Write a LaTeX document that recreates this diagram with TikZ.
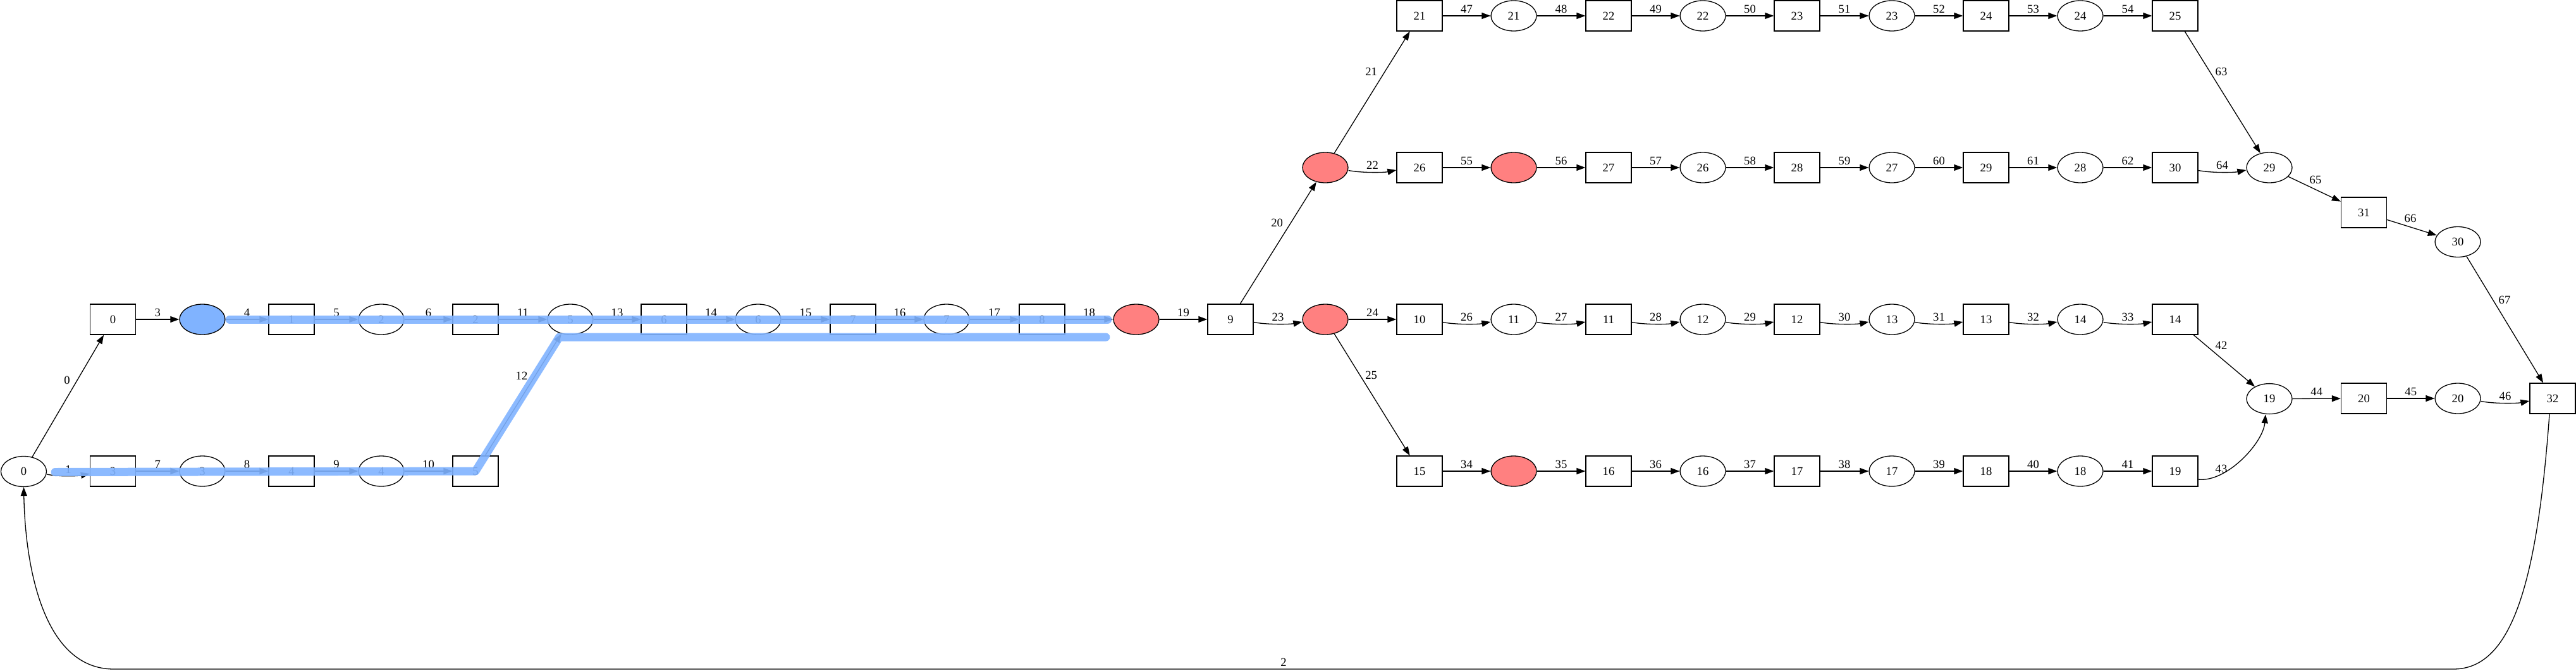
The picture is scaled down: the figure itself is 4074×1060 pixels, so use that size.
\documentclass[tikz,border=0pt]{standalone}
\usepackage{fontspec}
\setmainfont{Liberation Serif}
\usetikzlibrary{shapes.geometric,arrows.meta,calc}
\definecolor{hlblue}{RGB}{128,179,255}
\definecolor{redfill}{RGB}{255,128,128}
\newcommand\hconn[3]{\draw[conn] (#1) -- node[lbl,yshift=11pt]{#3} (#2);}
\newcommand\cconn[3]{\draw[conn] ([yshift=-4.5pt]#1.east) .. controls +(20,4) and +(-20,4) .. ([yshift=-4pt]#2.west) node[lbl,midway,yshift=10.6pt]{#3};}
\begin{document}
\begin{tikzpicture}[x=1pt,y=-1pt,
  every node/.style={font=\fontsize{18.67}{20}\selectfont},
  bx/.style={draw,line width=1.3pt,rectangle,minimum width=72pt,minimum height=48pt,inner sep=0pt},
  el/.style={draw,line width=1.3pt,ellipse,minimum width=72pt,minimum height=48pt,inner sep=0pt},
  redel/.style={el,fill=redfill},
  blueel/.style={el,fill=hlblue},
  conn/.style={line width=1.3pt,-{Triangle[length=14pt,width=10pt]}},
  lbl/.style={inner sep=0pt},
  hl/.style={line width=13pt,draw=hlblue,opacity=0.9,line cap=round,line join=round}]
\useasboundingbox (0,0) rectangle (4074,1060);
% row C (y=505)
\node[bx] (b0) at (178.5,505) {0};
\node[blueel] (e1) at (320,505) {};
\node[bx] (b1) at (461,505) {1};
\node[el] (e2) at (603,505) {2};
\node[bx] (b2) at (752,505) {2};
\node[el] (e5) at (902,505) {5};
\node[bx] (b6) at (1050,505) {6};
\node[el] (e6) at (1199,505) {6};
\node[bx] (b7) at (1349,505) {7};
\node[el] (e7) at (1497,505) {7};
\node[bx] (b8) at (1648,505) {8};
\node[redel] (e8) at (1797,505) {};
\node[bx] (b9) at (1946,505) {9};
\node[redel] (e10) at (2096,505) {};
\node[bx] (b10) at (2245,505) {10};
\node[el] (e11) at (2394,505) {11};
\node[bx] (b11) at (2544,505) {11};
\node[el] (e12) at (2693,505) {12};
\node[bx] (b12) at (2842,505) {12};
\node[el] (e13) at (2992,505) {13};
\node[bx] (b13) at (3141,505) {13};
\node[el] (e14) at (3290,505) {14};
\node[bx] (b14) at (3440,505) {14};
% row D (y=745)
\node[el] (e0) at (37.5,745.5) {0};
\node[bx] (b3) at (178.5,745) {3};
\node[el] (e3) at (320,745) {3};
\node[bx] (b4) at (461,745) {4};
\node[el] (e4) at (603,745) {4};
\node[bx] (b5) at (752,745) {5};
\node[bx] (b15) at (2245,745) {15};
\node[redel] (e15) at (2394,745) {};
\node[bx] (b16) at (2544,745) {16};
\node[el] (e16) at (2693,745) {16};
\node[bx] (b17) at (2842,745) {17};
\node[el] (e17) at (2992,745) {17};
\node[bx] (b18) at (3141,745) {18};
\node[el] (e18) at (3290,745) {18};
\node[bx] (b19) at (3440,745) {19};
% row A (y=25)
\node[bx] (b21) at (2245,25) {21};
\node[el] (e21) at (2394,25) {21};
\node[bx] (b22) at (2544,25) {22};
\node[el] (e22) at (2693,25) {22};
\node[bx] (b23) at (2842,25) {23};
\node[el] (e23) at (2992,25) {23};
\node[bx] (b24) at (3141,25) {24};
\node[el] (e24) at (3290,25) {24};
\node[bx] (b25) at (3440,25) {25};
% row B (y=265)
\node[redel] (e9) at (2096,265) {};
\node[bx] (b26) at (2245,265) {26};
\node[redel] (e25) at (2394,265) {};
\node[bx] (b27) at (2544,265) {27};
\node[el] (e26) at (2693,265) {26};
\node[bx] (b28) at (2842,265) {28};
\node[el] (e27) at (2992,265) {27};
\node[bx] (b29) at (3141,265) {29};
\node[el] (e28) at (3290,265) {28};
\node[bx] (b30) at (3440,265) {30};
\node[el] (e29) at (3589,265) {29};
% right part
\node[bx] (b31) at (3738.5,336) {31};
\node[el] (e30) at (3887,382.5) {30};
\node[el] (e19) at (3589,630.6) {19};
\node[bx] (b20) at (3738.5,630) {20};
\node[el] (e20) at (3887,630) {20};
\node[bx] (b32) at (4037,630) {32};
% edges
\draw[conn] (e0) -- (b0) node[lbl] at (106,601.7) {0};
\cconn{e0}{b3}{1}
\draw[conn] ([xshift=-5pt]b32.south) .. controls (4012,930) and (3970,1058) .. (3880,1058) -- node[lbl,yshift=11pt]{2} (180,1058) .. controls (70,1058) and (40,900) .. (e0.south);
\hconn{b0}{e1}{3}
\hconn{e1}{b1}{4}
\hconn{b1}{e2}{5}
\hconn{e2}{b2}{6}
\hconn{b3}{e3}{7}
\hconn{e3}{b4}{8}
\hconn{b4}{e4}{9}
\hconn{e4}{b5}{10}
\hconn{b2}{e5}{11}
\draw[conn] (b5) -- (e5) node[lbl] at (825,594) {12};
\hconn{e5}{b6}{13}
\hconn{b6}{e6}{14}
\hconn{e6}{b7}{15}
\hconn{b7}{e7}{16}
\hconn{e7}{b8}{17}
\hconn{b8}{e8}{18}
\hconn{e8}{b9}{19}
\draw[conn] (b9) -- (e9) node[lbl] at (2019.6,352.7) {20};
\draw[conn] (e9) -- (b21) node[lbl] at (2168.6,113) {21};
\cconn{e9}{b26}{22}
\cconn{b9}{e10}{23}
\hconn{e10}{b10}{24}
\draw[conn] (e10) -- (b15) node[lbl] at (2168.6,593) {25};
\cconn{b10}{e11}{26}
\cconn{e11}{b11}{27}
\cconn{b11}{e12}{28}
\cconn{e12}{b12}{29}
\cconn{b12}{e13}{30}
\cconn{e13}{b13}{31}
\cconn{b13}{e14}{32}
\cconn{e14}{b14}{33}
\hconn{b15}{e15}{34}
\hconn{e15}{b16}{35}
\hconn{b16}{e16}{36}
\hconn{e16}{b17}{37}
\hconn{b17}{e17}{38}
\hconn{e17}{b18}{39}
\hconn{b18}{e18}{40}
\hconn{e18}{b19}{41}
\draw[conn] (b14) -- (e19) node[lbl] at (3513,546.5) {42};
\draw[conn] ([yshift=-13pt]b19.east) .. controls +(45,5) and +(-4,45) .. ([xshift=-6pt]e19.south) node[lbl] at (3513,741.6) {43};
\hconn{e19}{b20}{44}
\hconn{b20}{e20}{45}
\cconn{e20}{b32}{46}
\hconn{b21}{e21}{47}
\hconn{e21}{b22}{48}
\hconn{b22}{e22}{49}
\hconn{e22}{b23}{50}
\hconn{b23}{e23}{51}
\hconn{e23}{b24}{52}
\hconn{b24}{e24}{53}
\hconn{e24}{b25}{54}
\hconn{b26}{e25}{55}
\hconn{e25}{b27}{56}
\hconn{b27}{e26}{57}
\hconn{e26}{b28}{58}
\hconn{b28}{e27}{59}
\hconn{e27}{b29}{60}
\hconn{b29}{e28}{61}
\hconn{e28}{b30}{62}
\draw[conn] (b25) -- (e29) node[lbl] at (3513,113) {63};
\cconn{b30}{e29}{64}
\draw[conn] (e29) -- (b31) node[lbl] at (3662,284) {65};
\draw[conn] (b31) -- (e30) node[lbl] at (3812,345) {66};
\draw[conn] (e30) -- (b32) node[lbl] at (3961,474) {67};
% highlighted paths
\coordinate (hk) at ($(b5.center)!0.883!(e5.center)$);
\path (e8.west |- hk) ++(-11.5,0) coordinate (hend);
\draw[hl] ([xshift=6.5pt]e1.east) -- ([xshift=-8.5pt]e8.west);
\draw[hl] ([xshift=13pt,yshift=-1pt]e0.east) -- (b5.center) -- (hk) -- (hend);
\end{tikzpicture}
\end{document}
